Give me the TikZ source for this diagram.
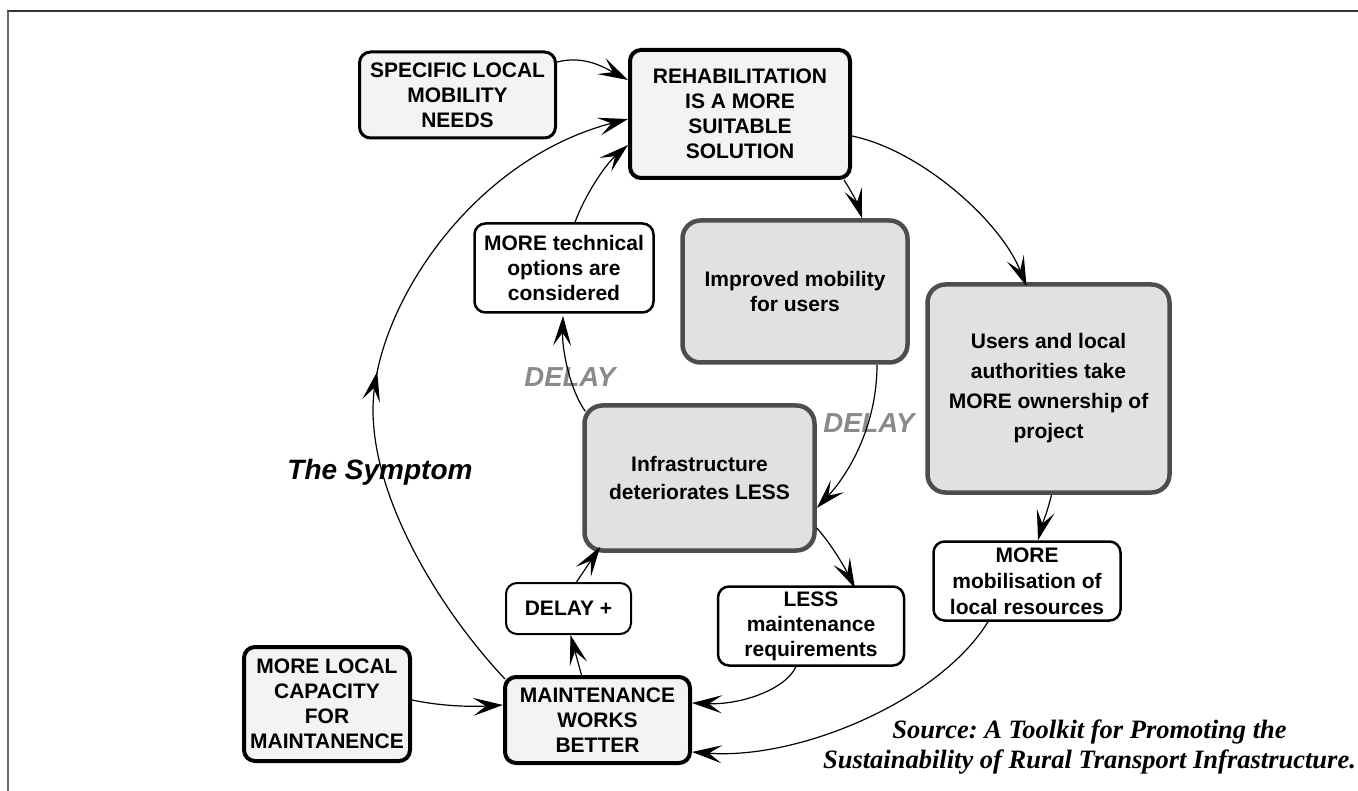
\documentclass[tikz,border=0pt]{standalone}
\usepackage{fontspec}
\setmainfont{Liberation Sans}
\newfontfamily\srcfont{Liberation Serif}
\usetikzlibrary{arrows.meta,calc,decorations.markings}
\frenchspacing
\definecolor{lightfill}{HTML}{F3F3F3}
\definecolor{shadefill}{HTML}{E1E1E1}
\definecolor{shadeline}{HTML}{4D4D4D}
\definecolor{delaygray}{HTML}{8A8A8A}
\definecolor{frameline}{HTML}{333333}
\definecolor{frameside}{HTML}{666666}
\tikzset{
  base/.style={rounded corners=11pt, align=center, inner sep=0pt,
    font=\bfseries\fontsize{21}{25}\selectfont},
  heavy/.style={base, draw=black, line width=4pt, fill=lightfill},
  light/.style={base, draw=black, line width=2.5pt, fill=white},
  shaded/.style={base, draw=shadeline, line width=4.5pt, fill=shadefill, rounded corners=18pt},
  link/.style={line width=1.2pt, -{Stealth[length=30pt,width=18pt,inset=13pt]}},
  midtip/.style={postaction={decorate}, decoration={markings,
    mark=at position #1 with {\arrow{Stealth[length=30pt,width=18pt,inset=13pt]}}}},
  delaylbl/.style={font=\bfseries\itshape\fontsize{27.5}{27.5}\selectfont, text=delaygray, inner sep=0pt},
}
\begin{document}
\begin{tikzpicture}[x=1pt,y=-1pt]
\useasboundingbox (0,0) rectangle (1358,791);
% frame
\draw[frameline, line width=1.4pt] (7,11) -- (1358,11);
\draw[frameside, line width=2.2pt] (8,11) -- (8,791);

% boxes
\node[heavy, line width=3pt, minimum width=196pt, minimum height=86pt] (spec) at (457.5,95)
  {SPECIFIC LOCAL\\MOBILITY\\NEEDS};
\node[heavy, minimum width=220pt, minimum height=128pt] (rehab) at (740,114)
  {REHABILITATION\\IS A MORE\\SUITABLE\\SOLUTION};
\node[light, minimum width=179pt, minimum height=89pt] (tech) at (564,268)
  {MORE technical\\options are\\considered};
\node[shaded, minimum width=225pt, minimum height=142pt] (impr) at (795,291.5)
  {Improved mobility\\for users};
\node[shaded, minimum width=242pt, minimum height=208pt,
  font=\bfseries\fontsize{21}{30}\selectfont] (users) at (1048.5,388.5)
  {Users and local\\authorities take\\MORE ownership of\\project};
\node[shaded, minimum width=230pt, minimum height=145pt,
  font=\bfseries\fontsize{21}{28}\selectfont] (infra) at (699.5,478)
  {Infrastructure\\deteriorates LESS};
\node[light, line width=2pt, minimum width=125pt, minimum height=51pt] (dplus) at (568.5,608.5)
  {DELAY +};
\node[light, minimum width=186pt, minimum height=79pt] (less) at (811,626)
  {LESS\\maintenance\\requirements};
\node[light, minimum width=187pt, minimum height=79pt,
  font=\bfseries\fontsize{21}{26}\selectfont] (mob) at (1027,581)
  {MORE\\mobilisation of\\local resources};
\node[heavy, minimum width=166pt, minimum height=114pt] (cap) at (327,704)
  {MORE LOCAL\\CAPACITY\\FOR\\MAINTANENCE};
\node[heavy, minimum width=185pt, minimum height=86pt] (maint) at (597.5,720)
  {MAINTENANCE\\WORKS\\BETTER};

% labels
\node[delaylbl] (delayA) at (570,377) {DELAY};
\node[delaylbl] (delayB) at (869,423) {DELAY};
\node[font=\bfseries\itshape\fontsize{28}{28}\selectfont, inner sep=0pt] (symptom) at (380,472) {The Symptom};
\node[font=\srcfont\bfseries\itshape\fontsize{26.5}{29.5}\selectfont, align=center, inner sep=0pt]
  (source) at (1089.5,747) {Source: A Toolkit for Promoting the\\Sustainability of Rural Transport Infrastructure.};

% connectors
\coordinate (leftmost) at (373,410);
\draw[link] ($(spec.east)+(0,-33)$) .. controls (585,55) and (605,68) .. ($(rehab.west)+(0,-34)$);
\draw[link, midtip=0.48] ($(maint.north west)+(2,4)$) .. controls (440,610) and (373,500) .. (leftmost)
  .. controls (373,310) and (470,160) .. ($(rehab.west)+(0,5)$);
\draw[link] ($(tech.north)+(11,0)$) .. controls (585,195) and (605,165) .. ($(rehab.west)+(0,31)$);
\draw[link] ($(rehab.south east)+(-8,0)$) .. controls (852,192) and (858,205) .. ($(impr.north)+(67,0)$);
\draw[link] ($(rehab.east)+(0,22)$) .. controls (920,150) and (1000,220) .. ($(users.north)+(-22,4)$);
\draw[link] ($(impr.south)+(82,0)$) .. controls (877,430) and (845,478) .. ($(infra.east)+(0,30)$);
\draw[link] ($(infra.north west)+(3,8)$) .. controls (570,390) and (562,350) .. ($(tech.south)+(-1,2)$);
\draw[link] ($(infra.east)+(0,50)$) .. controls (832,545) and (845,568) .. ($(less.north)+(44,3)$);
\draw[link] ($(users.south)+(3,0)$) .. controls (1048,510) and (1042,525) .. ($(mob.north)+(11,0)$);
\draw[link] ($(mob.south)+(-39,0)$) .. controls (940,700) and (800,760) .. ($(maint.east)+(0,32)$);
\draw[link] ($(less.south)+(-15,0)$) .. controls (785,690) and (740,705) .. ($(maint.east)+(0,-17)$);
\draw[link] ($(maint.north)+(-16,0)$) -- ($(dplus.south)+(2,0)$);
\draw[link] ($(dplus.north)+(8,0)$) -- ($(infra.south west)+(18,-6)$);
\draw[link] ($(cap.east)+(0,-4)$) .. controls (440,706) and (470,707) .. ($(maint.west)+(0,-15)$);
\end{tikzpicture}
\end{document}
